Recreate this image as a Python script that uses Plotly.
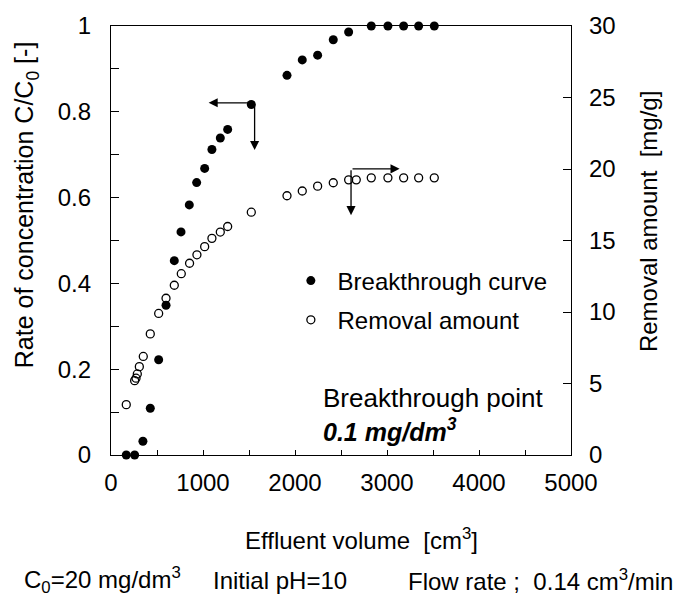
import plotly.graph_objects as go

# ---------------- data ----------------
bt_x = [166, 257, 347, 427, 518, 598, 688, 761, 851, 931, 1018, 1097, 1188, 1268,
        1525, 1913, 2079, 2246, 2416, 2583, 2829, 3010, 3181, 3344, 3514]
bt_y = [0.0, 0.0, 0.032, 0.109, 0.222, 0.349, 0.453, 0.520, 0.583, 0.635, 0.668,
        0.712, 0.739, 0.759, 0.817, 0.885, 0.921, 0.932, 0.968, 0.986,
        1.0, 1.0, 1.0, 1.0, 1.0]

rm_x = [166, 257, 272, 286, 308, 351, 427, 518, 598, 688, 764, 854, 934, 1018,
        1097, 1188, 1268, 1525, 1913, 2079, 2246, 2416, 2583, 2666, 2829, 3010,
        3181, 3344, 3514]
rm_y = [3.52, 5.20, 5.37, 5.67, 6.18, 6.89, 8.47, 9.90, 10.96, 11.87, 12.68,
        13.41, 14.00, 14.57, 15.15, 15.59, 15.98, 16.98, 18.13, 18.46, 18.80,
        19.04, 19.24, 19.24, 19.38, 19.38, 19.38, 19.38, 19.38]

x_ticks = [0, 1000, 2000, 3000, 4000, 5000]
y_ticks = [0, 0.2, 0.4, 0.6, 0.8, 1]
y_tick_text = ["0", "0.2", "0.4", "0.6", "0.8", "1"]
y2_ticks = [0, 5, 10, 15, 20, 25, 30]

FONT = "Liberation Sans, Arial, sans-serif"
FS = 24
TICKF = dict(family=FONT, size=FS, color="black")

fig = go.Figure()
fig.add_trace(go.Scatter(
    x=bt_x, y=bt_y, mode="markers", name="&nbsp;Breakthrough curve",
    legendgroup="a",
    marker=dict(symbol="circle", size=9, color="black", line=dict(width=0)),
    cliponaxis=False))
fig.add_trace(go.Scatter(
    x=rm_x, y=rm_y, mode="markers", name="&nbsp;Removal amount", yaxis="y2",
    legendgroup="b",
    marker=dict(symbol="circle-open", size=8, color="black", line=dict(width=1.3)),
    cliponaxis=False))

axis_common = dict(showgrid=False, zeroline=False, showline=True,
                   linecolor="black", linewidth=1.3, ticks="inside",
                   tickcolor="black", tickwidth=1.3, tickfont=TICKF)

fig.update_layout(
    width=680, height=598,
    margin=dict(l=111, r=109, t=23, b=143),
    paper_bgcolor="white", plot_bgcolor="white",
    xaxis=dict(range=[0, 5000], tickvals=x_ticks, ticklen=5, mirror=True,
               ticklabelstandoff=6,
               minor=dict(dtick=500, ticks="inside", ticklen=5,
                          tickcolor="black", tickwidth=1.3),
               **axis_common),
    yaxis=dict(range=[0, 1], tickvals=y_ticks, ticktext=y_tick_text,
               ticklen=8, ticklabelstandoff=14,
               minor=dict(dtick=0.1, ticks="inside", ticklen=8,
                          tickcolor="black", tickwidth=1.3),
               **axis_common),
    yaxis2=dict(range=[0, 30], tickvals=y2_ticks, overlaying="y", side="right",
                ticklen=8, ticklabelstandoff=12, **axis_common),
    legend=dict(x=0.391, y=0.458, xanchor="left", yanchor="top",
                bgcolor="rgba(0,0,0,0)", font=dict(family=FONT, size=FS, color="black"),
                itemwidth=30, tracegroupgap=5),
    showlegend=True,
)

def px_x(p):
    return (p - 110.7) / 460.0

def px_y(p):
    return (455.0 - p) / 432.3

ann = []
# axis titles
ann.append(dict(text="Effluent volume  [cm<sup>3</sup>]", xref="paper", yref="paper",
                x=px_x(361), y=px_y(540), xanchor="center", yanchor="middle",
                showarrow=False, font=dict(family=FONT, size=FS, color="black")))
ann.append(dict(text="C<sub>0</sub>=20 mg/dm<sup>3</sup>", xref="paper", yref="paper",
                x=px_x(22), y=px_y(581), xanchor="left",
                yanchor="middle", showarrow=False,
                font=dict(family=FONT, size=FS, color="black")))
ann.append(dict(text="Initial pH=10", xref="paper", yref="paper",
                x=px_x(211), y=px_y(581), xanchor="left",
                yanchor="middle", showarrow=False,
                font=dict(family=FONT, size=FS, color="black")))
ann.append(dict(text="Flow rate ;  0.14 cm<sup>3</sup>/min", xref="paper", yref="paper",
                x=px_x(675), y=px_y(581), xanchor="right",
                yanchor="middle", showarrow=False,
                font=dict(family=FONT, size=FS, color="black")))
ann.append(dict(text="Rate of concentration C/C<sub>0</sub> [-]", xref="paper", yref="paper",
                x=px_x(26), y=px_y(203), xanchor="center",
                yanchor="middle", textangle=-90,
                showarrow=False, font=dict(family=FONT, size=25, color="black")))
ann.append(dict(text="Removal amount  [mg/g]", xref="paper", yref="paper",
                x=px_x(648), y=px_y(220), xanchor="center",
                yanchor="middle", textangle=-90,
                showarrow=False, font=dict(family=FONT, size=FS, color="black")))
# breakthrough point text
ann.append(dict(text="Breakthrough point", xref="paper", yref="paper",
                x=px_x(321), y=px_y(398), xanchor="left",
                yanchor="middle", showarrow=False,
                font=dict(family=FONT, size=26, color="black")))
ann.append(dict(text="<b><i>0.1 mg/dm<sup>3</sup></i></b>", xref="paper", yref="paper",
                x=px_x(321), y=px_y(430), xanchor="left",
                yanchor="middle", showarrow=False,
                font=dict(family=FONT, size=25, color="black")))

arrow = dict(showarrow=True, arrowhead=2, arrowsize=1.4, arrowwidth=1.3,
             arrowcolor="black", text="", standoff=0, startstandoff=0,
             xref="x", yref="y", axref="x", ayref="y")
# arrows for breakthrough curve (points to left axis)
ann.append(dict(x=1061, y=0.821, ax=1561, ay=0.821, **arrow))
ann.append(dict(x=1561, y=0.711, ax=1561, ay=0.821, **arrow))
# arrows for removal amount (points to right axis)
ann.append(dict(x=3137, y=0.667, ax=2609, ay=0.667, **arrow))
ann.append(dict(x=2609, y=0.559, ax=2609, ay=0.667, **arrow))

fig.update_layout(annotations=ann)
fig.write_html("out.html")
